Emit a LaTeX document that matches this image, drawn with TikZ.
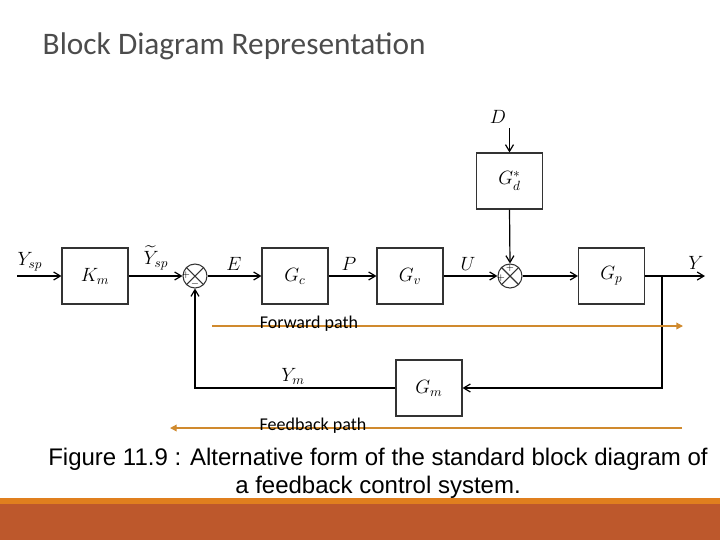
\documentclass[tikz,border=0pt]{standalone}
\usepackage{fontspec}
\usepackage{amsmath}
\setmainfont{Liberation Sans}
\newfontfamily\calib{Carlito}
\usetikzlibrary{arrows.meta}
\definecolor{bandA}{HTML}{E07F1E}
\definecolor{bandB}{HTML}{BD582C}
\definecolor{pathc}{HTML}{D08A2E}
\begin{document}
\begin{tikzpicture}[x=0.75pt,y=-0.75pt,
  blk/.style={draw=black!80,line width=0.8pt,minimum width=49.5pt,minimum height=42pt,inner sep=0pt,font=\Large},
  sumj/.style={draw=black!80,line width=0.8pt,circle,minimum size=18pt,inner sep=0pt},
  sig/.style={line width=0.9pt,-{Straight Barb[length=5pt,width=6pt]}},
  lbl/.style={font=\Large},
  pth/.style={draw=pathc,line width=1pt},
  ptxt/.style={font=\calib\fontsize{13.5}{15}\selectfont}]
\useasboundingbox (0,0) rectangle (720,540);
\fill[bandA] (0,498) rectangle (720,504);
\fill[bandB] (0,504) rectangle (720,540);
\node[anchor=west,text=black!70,font=\calib\fontsize{23.5}{26}\selectfont] (title) at (38,46) {Block Diagram Representation};
% blocks
\node[blk] (km) at (95,276) {$K_m$};
\node[blk] (gc) at (295,276) {$G_c$};
\node[blk] (gv) at (410,276) {$G_v$};
\node[blk] (gp) at (611.5,276) {$G_p$};
\node[blk] (gd) at (509.5,181) {$G_d^*$};
\node[blk] (gm) at (429,388) {$G_m$};
\node[sumj] (s1) at (195,276) {};
\node[sumj] (s2) at (510,276) {};
\draw[line width=0.8pt,black!80] (s1.45)--(s1.225) (s1.135)--(s1.315);
\draw[line width=0.8pt,black!80] (s2.45)--(s2.225) (s2.135)--(s2.315);
\node[font=\scriptsize,inner sep=0] (p1) at (186,275) {$+$};
\node[font=\scriptsize,inner sep=0] (m1) at (195,284) {$-$};
\node[font=\scriptsize,inner sep=0] (p2) at (510,268) {$+$};
\node[font=\scriptsize,inner sep=0] (p3) at (501,278) {$+$};
% coordinates
\coordinate (in) at (17,276);
\coordinate (dtop) at (509.5,128);
\coordinate (br) at (662,276);
\coordinate (out) at (705,276);
\coordinate (fbr) at (662,388);
\coordinate (fbl) at (195,388);
% signals
\draw[sig] (in) -- (km.west);
\draw[sig] (km.east) -- (s1.west);
\draw[sig] (s1.east) -- (gc.west);
\draw[sig] (gc.east) -- (gv.west);
\draw[sig] (gv.east) -- (s2.west);
\draw[sig] (s2.east) -- (gp.west);
\draw[sig] (gp.east) -- (out);
\draw[sig] (dtop) -- (gd.north);
\draw[sig] (gd.south) -- (s2.north);
\draw[sig] (br) -- (fbr) -- (gm.east);
\draw[sig] (gm.west) -- (fbl) -- (s1.south);
% labels
\node[lbl] (lysp) at (30,262) {$Y_{sp}$};
\node[lbl,inner sep=1pt] (lyt) at (156,258) {$\widetilde{Y}_{sp}$};
\node[lbl] (le) at (234,264) {$E$};
\node[lbl] (lp) at (349,264) {$P$};
\node[lbl] (lu) at (468,264) {$U$};
\node[lbl] (ly) at (696,263) {$Y$};
\node[lbl] (ld) at (498,117) {$D$};
\node[lbl] (lym) at (293,376) {$Y_m$};
% paths
\coordinate (f1) at (212,326); \coordinate (f2) at (683,326);
\coordinate (b1) at (170,428); \coordinate (b2) at (682,428);
\draw[pth,-{Triangle[length=5pt,width=5pt]}] (f1) -- (f2);
\draw[pth,-{Triangle[length=5pt,width=5pt]}] (b2) -- (b1);
\node[ptxt] (ft) at (309,324) {Forward path};
\node[ptxt] (bt) at (313,426) {Feedback path};
\node[font=\fontsize{18}{21}\selectfont,align=center] (cap) at (378,473) {Figure 11.9 : Alternative form of the standard block diagram of\\a feedback control system.};
\end{tikzpicture}
\end{document}
